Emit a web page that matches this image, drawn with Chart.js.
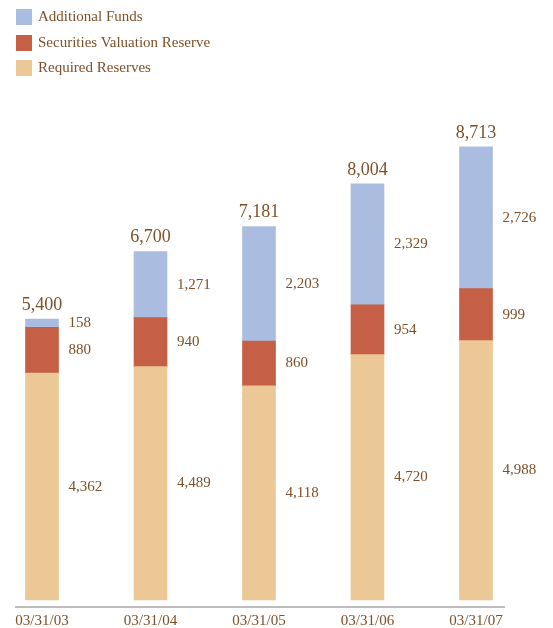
<!DOCTYPE html>
<html>
<head>
<meta charset="utf-8">
<script src="https://cdn.jsdelivr.net/npm/chart.js@4/dist/chart.umd.min.js"></script>
<style>
  html, body { margin: 0; padding: 0; background: #fff; }
  #wrap { position: relative; width: 553px; height: 628px; }
  #legend { position: absolute; left: 16px; top: 8px; font-family: "Liberation Serif", "DejaVu Serif", serif; font-size: 15px; color: #7d5028; }
  #legend div { height: 25.5px; display: flex; align-items: flex-start; }
  #legend span.box { display: inline-block; width: 16px; height: 16px; margin-right: 6px; margin-top: 1px; }
</style>
</head>
<body>
<div id="wrap">
  <canvas id="chart" width="553" height="628"></canvas>
  <div id="legend"></div>
</div>
<script>
// Datos del gráfico
const categories = ['03/31/03', '03/31/04', '03/31/05', '03/31/06', '03/31/07'];
const requiredReserves = [4362, 4489, 4118, 4720, 4988];
const securitiesReserve = [880, 940, 860, 954, 999];
const additionalFunds = [158, 1271, 2203, 2329, 2726];
const totals = [5400, 6700, 7181, 8004, 8713];

const textColor = '#7d5028';
const serif = '"Liberation Serif", "DejaVu Serif", serif';

const datasets = [
    { label: 'Required Reserves', data: requiredReserves, backgroundColor: '#ecc896' },
    { label: 'Securities Valuation Reserve', data: securitiesReserve, backgroundColor: '#c55f45' },
    { label: 'Additional Funds', data: additionalFunds, backgroundColor: '#aabde0' }
];

// Leyenda en HTML (orden inverso, como en el original)
const legend = document.getElementById('legend');
datasets.slice().reverse().forEach(ds => {
    const row = document.createElement('div');
    row.innerHTML = '<span class="box" style="background:' + ds.backgroundColor + '"></span>' + ds.label;
    legend.appendChild(row);
});

const fmt = v => v.toLocaleString('en-US');

// Etiquetas de valores y línea del eje
const labelsPlugin = {
    id: 'barLabels',
    afterDatasetsDraw(chart) {
        const ctx = chart.ctx;
        ctx.save();
        ctx.fillStyle = textColor;
        ctx.font = '15px ' + serif;
        ctx.textAlign = 'left';
        ctx.textBaseline = 'middle';
        chart.data.datasets.forEach((ds, i) => {
            chart.getDatasetMeta(i).data.forEach((el, j) => {
                ctx.fillText(fmt(ds.data[j]), el.x + el.width / 2 + 10, (el.y + el.base) / 2);
            });
        });
        const top = chart.getDatasetMeta(chart.data.datasets.length - 1).data;
        ctx.font = '18px ' + serif;
        ctx.textAlign = 'center';
        top.forEach((el, j) => {
            ctx.fillText(fmt(totals[j]), el.x, el.y - 14);
        });
        // línea del eje
        const y = chart.chartArea.bottom + 7;
        ctx.strokeStyle = '#bdbdbd';
        ctx.lineWidth = 2;
        ctx.beginPath();
        ctx.moveTo(15, y);
        ctx.lineTo(505, y);
        ctx.stroke();
        ctx.restore();
    }
};

new Chart(document.getElementById('chart'), {
    type: 'bar',
    data: {
        labels: categories,
        datasets: datasets.map(ds => Object.assign({ barThickness: 33, clip: false, borderWidth: 0 }, ds))
    },
    options: {
        responsive: false,
        animation: false,
        layout: { padding: { top: 132, left: 42, right: 77, bottom: -14 } },
        plugins: { legend: { display: false }, tooltip: { enabled: false } },
        scales: {
            x: {
                stacked: true,
                offset: false,
                grid: { display: false, drawTicks: false },
                border: { display: false },
                ticks: { color: textColor, font: { family: serif, size: 15 }, padding: 12, maxRotation: 0, autoSkip: false }
            },
            y: {
                stacked: true,
                display: false,
                min: 0,
                max: 9000
            }
        }
    },
    plugins: [labelsPlugin]
});
</script>
</body>
</html>
